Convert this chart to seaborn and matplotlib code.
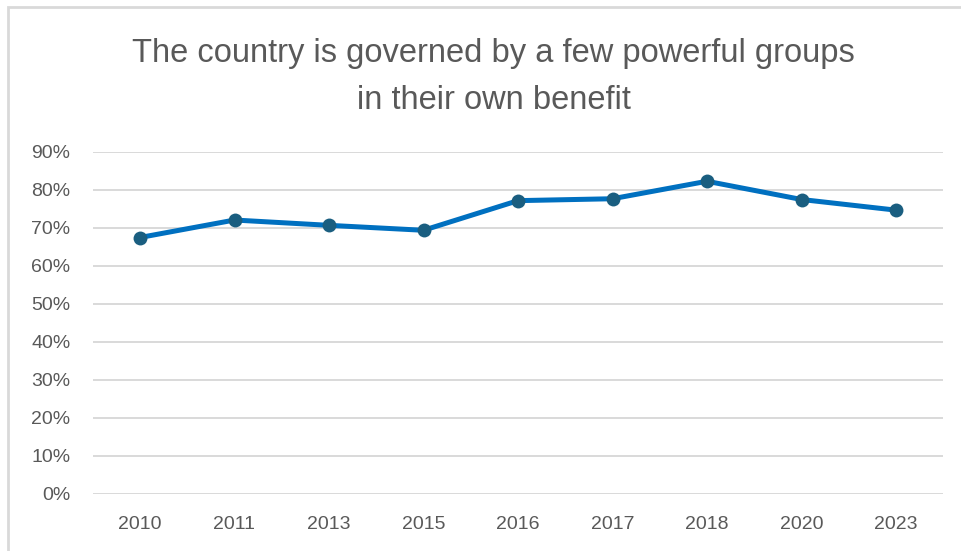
"""
Line chart: share agreeing that the country is governed by a few powerful groups
"""

import matplotlib
matplotlib.use("Agg")
import matplotlib.pyplot as plt
from matplotlib.patches import Rectangle
import seaborn as sns
import pandas as pd

years = ["2010", "2011", "2013", "2015", "2016", "2017", "2018", "2020", "2023"]
share = [0.675, 0.721, 0.707, 0.694, 0.772, 0.777, 0.823, 0.775, 0.747]
y_ticks = [0.0, 0.1, 0.2, 0.3, 0.4, 0.5, 0.6, 0.7, 0.8, 0.9]
title = "The country is governed by a few powerful groups\nin their own benefit"

TEXT = "#595959"
GRID = "#D9D9D9"
LINE = "#0070C0"
MARKER = "#1A5E80"

sns.set_theme(style="white")
plt.rcParams["font.family"] = ["Liberation Sans", "DejaVu Sans"]

df = pd.DataFrame({"year": years, "share": share})

W, H = 961, 551
fig = plt.figure(figsize=(W / 100, H / 100), dpi=100)
ax = fig.add_axes([92.75 / W, 1 - 494 / H, 850.5 / W, 342 / H])

sns.lineplot(
    data=df, x="year", y="share", ax=ax,
    color=LINE, linewidth=3.6,
    marker="o", markersize=10, markerfacecolor=MARKER,
    markeredgecolor=MARKER, markeredgewidth=0,
)
ax.set_xlim(-0.5, len(years) - 0.5)
ax.set_ylim(0, 0.9)
ax.set_yticks(y_ticks)
ax.set_yticklabels([f"{int(round(t * 100))}%" for t in y_ticks])
ax.yaxis.grid(True, color=GRID, linewidth=1.4)
ax.set_axisbelow(True)
for s in ax.spines.values():
    s.set_visible(False)
ax.set_xlabel("")
ax.set_ylabel("")
ax.tick_params(axis="both", length=0, labelsize=14, labelcolor=TEXT)
ax.tick_params(axis="y", pad=16)
ax.tick_params(axis="x", pad=16)
ax.set_facecolor("none")

fig.text(493.5 / W, 1 - 77 / H, title, ha="center", va="center",
         fontsize=23.5, color=TEXT, linespacing=1.7)

# chart area border (only left and top visible in the crop)
fig.add_artist(Rectangle((8 / W, -0.1), 2.0, 1 - 7 / H + 0.1,
                         transform=fig.transFigure, fill=False,
                         edgecolor=GRID, linewidth=2))

fig.savefig("out.png", dpi=100)
plt.close(fig)
